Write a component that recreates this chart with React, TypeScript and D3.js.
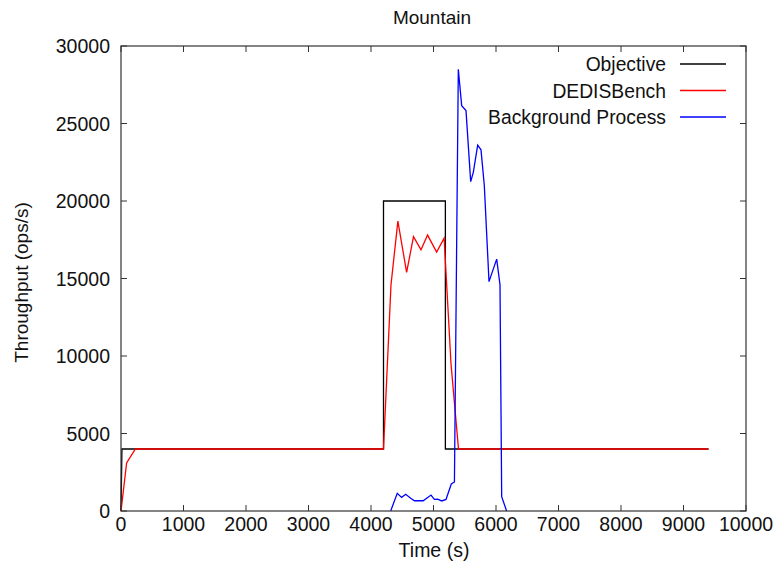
import React from "react";
import * as d3 from "d3";

const title = "Mountain";
const xLabel = "Time (s)";
const yLabel = "Throughput (ops/s)";
const xTicks = [0, 1000, 2000, 3000, 4000, 5000, 6000, 7000, 8000, 9000, 10000];
const yTicks = [0, 5000, 10000, 15000, 20000, 25000, 30000];

const objectiveT = [0, 15, 4200, 4200, 5190, 5190, 9400];
const objectiveV = [0, 4000, 4000, 20000, 20000, 4000, 4000];

const dedisT = [0, 90, 230, 4200, 4320, 4430, 4570, 4680, 4800, 4905, 5050, 5170, 5280, 5400, 9400];
const dedisV = [0, 3100, 4000, 4000, 14600, 18700, 15400, 17700, 16850, 17800, 16700, 17600, 9500, 4000, 4000];

const bgT = [4315, 4420, 4490, 4555, 4635, 4695, 4835, 4960, 5013, 5067, 5131, 5200, 5285, 5335, 5397, 5451, 5520, 5595, 5637, 5707, 5760, 5813, 5888, 6011, 6064, 6091, 6170];
const bgV = [0, 1140, 880, 1080, 820, 660, 660, 1030, 750, 770, 650, 750, 1740, 1870, 28500, 26150, 25830, 21250, 21850, 23600, 23300, 21000, 14800, 16250, 14600, 920, 0];

const seriesNames = ["Objective", "DEDISBench", "Background Process"];
const seriesColors = ["#000000", "#ff0000", "#0000ff"];

export default function App() {
  const W = 776, H = 565;
  const left = 121, right = 746, top = 46, bottom = 511;
  const x = d3.scaleLinear().domain([0, 10000]).range([left, right]);
  const y = d3.scaleLinear().domain([0, 30000]).range([bottom, top]);
  const line = d3.line<[number, number]>().x(d => x(d[0])).y(d => y(d[1]));
  const zip = (t: number[], v: number[]) => t.map((tt, i) => [tt, v[i]] as [number, number]);
  const series = [zip(objectiveT, objectiveV), zip(dedisT, dedisV), zip(bgT, bgV)];
  const font = "'Liberation Sans', Arial, sans-serif";
  const fs = 19.5;
  const tl = 6;
  const axisColor = "#333";
  return (
    <svg width={W} height={H} style={{ position: "absolute", left: 0, top: 0, background: "#fff" }} fontFamily={font}>
      <rect x={0} y={0} width={W} height={H} fill="#fff" />
      <text x={432} y={24} textAnchor="middle" fontSize={19} fill="#111">{title}</text>
      {xTicks.map(t => (
        <g key={"x" + t}>
          <line x1={x(t)} x2={x(t)} y1={bottom} y2={bottom - tl} stroke={axisColor} />
          <line x1={x(t)} x2={x(t)} y1={top} y2={top + tl} stroke={axisColor} />
          <text x={x(t)} y={531} textAnchor="middle" fontSize={fs} fill="#111">{t}</text>
        </g>
      ))}
      {yTicks.map(t => (
        <g key={"y" + t}>
          <line x1={left} x2={left + tl} y1={y(t)} y2={y(t)} stroke={axisColor} />
          <line x1={right} x2={right - tl} y1={y(t)} y2={y(t)} stroke={axisColor} />
          <text x={110} y={y(t) + 7} textAnchor="end" fontSize={fs} fill="#111">{t}</text>
        </g>
      ))}
      <text x={434} y={557} textAnchor="middle" fontSize={19.5} fill="#111">{xLabel}</text>
      <text transform={`translate(28, ${(top + bottom) / 2 + 4}) rotate(-90)`} textAnchor="middle" fontSize={19} fill="#111">{yLabel}</text>
      {series.map((s, i) => (
        <path key={"s" + i} d={line(s) || ""} fill="none" stroke={seriesColors[i]} strokeWidth={1.3} />
      ))}
      {seriesNames.map((n, i) => {
        const ly = 64 + i * 26.5;
        return (
          <g key={"l" + i}>
            <text x={666} y={ly + 7} textAnchor="end" fontSize={19.3} fill="#111">{n}</text>
            <line x1={680} x2={726} y1={ly} y2={ly} stroke={seriesColors[i]} strokeWidth={1.3} />
          </g>
        );
      })}
      <rect x={left} y={top} width={right - left} height={bottom - top} fill="none" stroke={axisColor} strokeWidth={1.2} />
    </svg>
  );
}
